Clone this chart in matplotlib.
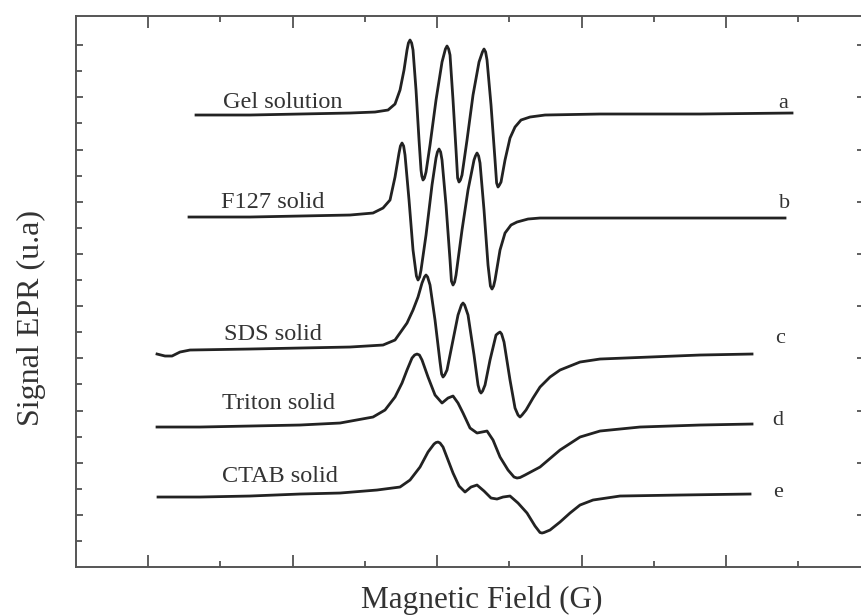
import numpy as np
import matplotlib
matplotlib.use("Agg")
import matplotlib.pyplot as plt
from matplotlib.ticker import FixedLocator

plt.rcParams['font.family'] = ['Liberation Serif', 'DejaVu Serif']

# EPR spectra: field (G) and signal (u.a)
field_a = [3298, 3325, 3350, 3375, 3387.5, 3394, 3397.5, 3400, 3402, 3403.5, 3404.2, 3405,
           3405.8, 3406.5, 3408, 3409.5, 3410.5, 3410.9, 3411.5, 3412.2, 3413, 3415, 3418,
           3421, 3422.7, 3423.5, 3424.3, 3425, 3426.5, 3428, 3428.8, 3429.5, 3430.2, 3431,
           3433.5, 3436.5, 3439.5, 3441.2, 3442, 3442.8, 3443.5, 3445.5, 3447.5, 3448.3,
           3449, 3449.7, 3450.5, 3452.5, 3455, 3457.5, 3460.5, 3465, 3472.5, 3500, 3550, 3596]
signal_a = [4.52, 4.52, 4.53, 4.54, 4.55, 4.57, 4.63, 4.77, 4.97, 5.17, 5.24, 5.27,
            5.24, 5.17, 4.77, 4.27, 3.97, 3.91, 3.87, 3.89, 3.95, 4.22, 4.67,
            5.05, 5.18, 5.21, 5.18, 5.12, 4.67, 4.17, 3.89, 3.85, 3.87, 3.92,
            4.27, 4.72, 5.05, 5.15, 5.18, 5.15, 5.07, 4.62, 4.07, 3.84,
            3.80, 3.82, 3.85, 4.07, 4.29, 4.40, 4.47, 4.50, 4.52, 4.53, 4.53, 4.54]

field_b = [3294.5, 3325, 3350, 3375, 3386.5, 3391.5, 3395, 3397.5, 3399.5, 3400.2, 3401,
           3401.8, 3402.5, 3404.5, 3406.5, 3408.2, 3409, 3409.8, 3410.5, 3413, 3416, 3418,
           3418.7, 3419.5, 3420.3, 3421, 3423, 3425, 3425.7, 3426.5, 3427.3, 3428, 3431,
           3434, 3437, 3437.7, 3438.5, 3439.3, 3440, 3442, 3444, 3445.2, 3446, 3446.8,
           3447.5, 3450, 3452.5, 3455.5, 3458.5, 3464, 3470, 3500, 3550, 3592.5]
signal_b = [3.50, 3.50, 3.51, 3.52, 3.54, 3.59, 3.67, 3.90, 4.14, 4.21, 4.24,
            4.21, 4.12, 3.67, 3.17, 2.91, 2.87, 2.90, 2.97, 3.32, 3.82, 4.09,
            4.15, 4.18, 4.15, 4.07, 3.62, 3.07, 2.86, 2.82, 2.85, 2.92, 3.37,
            3.77, 4.07, 4.11, 4.14, 4.11, 4.04, 3.57, 3.02, 2.81, 2.78, 2.81,
            2.87, 3.17, 3.34, 3.42, 3.45, 3.48, 3.49, 3.49, 3.49, 3.49]

field_c = [3278.5, 3282.5, 3286, 3290, 3295, 3325, 3350, 3375, 3391.5, 3397.5, 3403.5,
           3406.5, 3409, 3411, 3412.2, 3413, 3413.8, 3415, 3417.5, 3420, 3420.8, 3421.5,
           3422.3, 3423.5, 3426, 3429, 3430.7, 3431.5, 3432.3, 3434, 3437, 3439, 3439.8,
           3440.5, 3441.3, 3442.5, 3445, 3448, 3449.2, 3450, 3450.8, 3452, 3455, 3457.5,
           3459, 3460, 3461, 3463, 3466.5, 3470, 3475, 3480, 3490, 3500, 3525, 3550, 3576]
signal_c = [2.13, 2.11, 2.11, 2.15, 2.17, 2.18, 2.19, 2.20, 2.22, 2.27, 2.44,
            2.57, 2.70, 2.84, 2.90, 2.92, 2.90, 2.82, 2.47, 2.05, 1.93, 1.90,
            1.92, 1.97, 2.22, 2.52, 2.62, 2.64, 2.62, 2.52, 2.12, 1.82, 1.76,
            1.74, 1.76, 1.82, 2.07, 2.32, 2.34, 2.35, 2.33, 2.25, 1.87, 1.59,
            1.52, 1.50, 1.52, 1.57, 1.69, 1.80, 1.90, 1.97, 2.05, 2.08, 2.10, 2.12, 2.13]

field_d = [3278.5, 3300, 3325, 3350, 3370, 3386.5, 3392.5, 3397.5, 3401, 3403.5,
           3406, 3407.3, 3408.5, 3409.7, 3411, 3414, 3417.5, 3421, 3424, 3426.5,
           3429, 3431.5, 3435, 3438.5, 3441, 3443.5, 3446.5, 3450, 3454, 3457,
           3458.5, 3460, 3462.5, 3470, 3480, 3490, 3500, 3520, 3550, 3576]
signal_d = [1.40, 1.40, 1.41, 1.42, 1.44, 1.50, 1.57, 1.70, 1.84, 1.97,
            2.09, 2.12, 2.13, 2.12, 2.07, 1.90, 1.72, 1.64, 1.69, 1.71,
            1.64, 1.54, 1.39, 1.34, 1.35, 1.36, 1.27, 1.10, 0.97, 0.90,
            0.89, 0.895, 0.92, 1.00, 1.17, 1.30, 1.36, 1.40, 1.42, 1.43]

field_e = [3279, 3300, 3325, 3350, 3370, 3388.5, 3400, 3405, 3410, 3414,
           3417, 3418, 3419, 3420, 3421.5, 3424, 3426.5, 3429.5, 3432.5, 3435.5,
           3438.5, 3442, 3445.5, 3448.5, 3451.5, 3455, 3459, 3463.5, 3467.5, 3470,
           3471, 3472, 3475, 3480, 3485, 3490, 3496.5, 3510, 3540, 3575]
signal_e = [0.70, 0.70, 0.71, 0.73, 0.74, 0.77, 0.80, 0.87, 1.00, 1.15,
            1.23, 1.245, 1.25, 1.24, 1.20, 1.07, 0.94, 0.81, 0.75, 0.80,
            0.82, 0.76, 0.69, 0.68, 0.70, 0.71, 0.64, 0.54, 0.41, 0.345,
            0.34, 0.345, 0.37, 0.45, 0.54, 0.62, 0.67, 0.71, 0.72, 0.73]

names = ["Gel solution", "F127 solid", "SDS solid", "Triton solid", "CTAB solid"]
name_x = [3341.5, 3336.5, 3336.5, 3339, 3340]
name_y = [4.59, 3.59, 2.27, 1.58, 0.85]
letters = ["a", "b", "c", "d", "e"]
letter_x = [3591.5, 3592.5, 3590, 3589, 3589]
letter_y = [4.59, 3.59, 2.24, 1.42, 0.70]

fig = plt.figure(figsize=(8.61, 6.16), dpi=100)
ax = fig.add_axes([0.0883, 0.0795, 0.9152, 0.8945])

ink = '#222222'
for f, s in [(field_a, signal_a), (field_b, signal_b), (field_c, signal_c),
             (field_d, signal_d), (field_e, signal_e)]:
    ax.plot(f, s, color=ink, lw=2.0, solid_joinstyle='round')

for n, x, y in zip(names, name_x, name_y):
    ax.text(x, y, n, ha='center', va='baseline', fontsize=17.5, color='#333333')
for l, x, y in zip(letters, letter_x, letter_y):
    ax.text(x, y, l, ha='center', va='baseline', fontsize=16, color='#333333')

ax.set_xlim(3238, 3632)
ax.set_ylim(0, 5.51)

ax.xaxis.set_major_locator(FixedLocator(3274 + 72.25 * np.arange(5)))
ax.xaxis.set_minor_locator(FixedLocator(3310.1 + 72.25 * np.arange(5)))
ax.yaxis.set_major_locator(FixedLocator(0.52 + 0.522 * np.arange(10)))
ax.yaxis.set_minor_locator(FixedLocator(0.26 + 0.522 * np.arange(10)))
ax.set_xticklabels([])
ax.set_yticklabels([])
ax.tick_params(which='both', direction='in', top=True, right=True, color='#444444')
ax.tick_params(axis='x', which='major', length=8.5, width=1.2)
ax.tick_params(axis='x', which='minor', length=4.5, width=1.2)
ax.tick_params(axis='y', which='major', length=5, width=1.2)
ax.tick_params(axis='y', which='minor', length=4, width=1.2, right=False)

for sp in ax.spines.values():
    sp.set_color('#555555')
    sp.set_linewidth(1.4)

fig.text(482 / 861, 1 - 600 / 616, "Magnetic Field (G)", ha='center', va='center',
         fontsize=22.5, color='#333333')
fig.text(31 / 861, 1 - 318 / 616, "Signal EPR (u.a)", ha='center', va='center',
         rotation=90, fontsize=23, color='#333333')

fig.savefig("out.png", dpi=100)
